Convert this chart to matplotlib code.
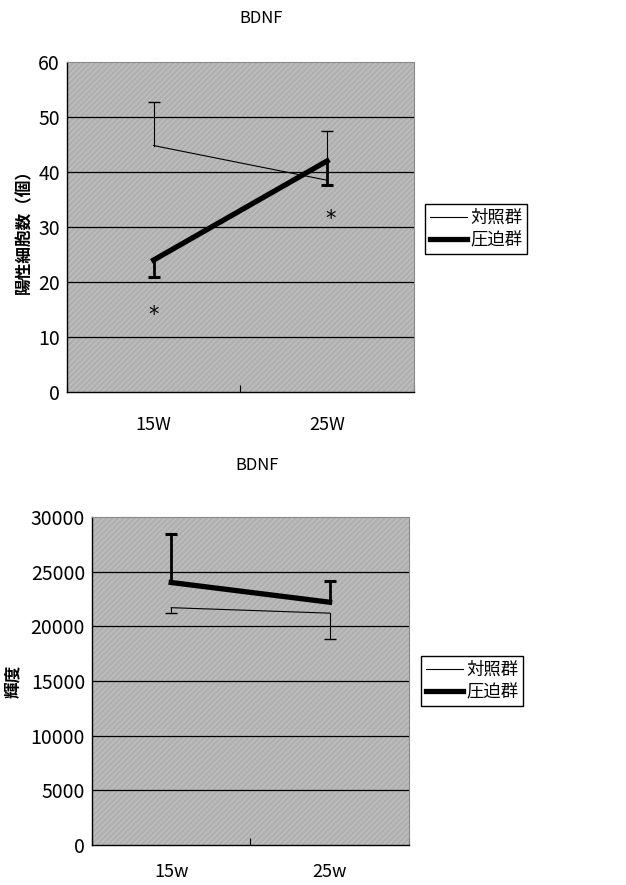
import matplotlib
matplotlib.use("Agg")
import matplotlib.pyplot as plt
from matplotlib.patches import Rectangle

plt.rcParams['font.family'] = ['Noto Sans CJK JP', 'DejaVu Sans']
plt.rcParams['hatch.linewidth'] = 0.6

# data
weeks_top = ['15W', '25W']
weeks_bottom = ['15w', '25w']
series_names = ['対照群', '圧迫群']

cells_control = [44.8, 38.5]
cells_control_err_up = [8.0, 9.0]
cells_press = [24.0, 42.0]
cells_press_err_down = [3.0, 4.3]
cells_star = [(0, 14.0), (1, 31.5)]

lum_control = [21700, 21200]
lum_control_err_down = [500, 2400]
lum_press = [24000, 22200]
lum_press_err_up = [4400, 1900]


def style_axes(ax, ymax, ystep, labels, xpad):
    ax.set_facecolor('#b0b0b0')
    ax.add_patch(Rectangle((0, 0), 1, 1, transform=ax.transAxes, facecolor='none',
                           edgecolor='#c8c8c8', hatch='//////', lw=0, zorder=0))
    ax.set_xlim(0, 2)
    ax.set_ylim(0, ymax)
    ax.set_yticks(range(0, ymax + 1, ystep))
    for y in range(ystep, ymax, ystep):
        ax.axhline(y, color='black', lw=0.9, zorder=1)
    ax.set_xticks([0, 1, 2])
    ax.set_xticklabels([])
    ax.tick_params(axis='x', which='major', direction='in', length=5, width=0.8)
    ax.set_xticks([0.5, 1.5], minor=True)
    ax.set_xticklabels(labels, minor=True, fontsize=13)
    ax.tick_params(axis='x', which='minor', length=0, pad=xpad)
    ax.tick_params(axis='y', length=0, labelsize=14, pad=5)
    for s in ['top', 'right']:
        ax.spines[s].set_color('#8a8a8a')
        ax.spines[s].set_linewidth(0.8)
    for s in ['left', 'bottom']:
        ax.spines[s].set_linewidth(1.0)


def draw_err(ax, xs, means, errs, sign, lw, ms, mew):
    for x, m, e in zip(xs, means, errs):
        end = m + sign * e
        ax.plot([x, x], [m, end], color='black', lw=lw, zorder=4)
        ax.plot([x], [end], marker='_', color='black', ms=ms, mew=mew, zorder=4)


def add_legend(fig, handles, ycenter, xleft):
    fig.legend(handles, series_names, loc='center left',
               bbox_to_anchor=(xleft / 626, 1 - ycenter / 885),
               frameon=True, fancybox=False, edgecolor='black', framealpha=1,
               handlelength=2.1, borderpad=0.3, labelspacing=0.25,
               handletextpad=0.2, borderaxespad=0,
               prop={'size': 12.5})


fig = plt.figure(figsize=(6.26, 8.85), dpi=100)
xs = [0.5, 1.5]

# top chart
ax1 = fig.add_axes([0.107, 0.557, 0.554, 0.373])
style_axes(ax1, 60, 10, weeks_top, 17)
l1, = ax1.plot(xs, cells_control, color='black', lw=0.8, zorder=3)
l2, = ax1.plot(xs, cells_press, color='black', lw=3.8, zorder=3)
draw_err(ax1, xs, cells_control, cells_control_err_up, 1, 0.8, 8, 1.0)
draw_err(ax1, xs, cells_press, cells_press_err_down, -1, 2.0, 8, 2.2)
for i, y in cells_star:
    ax1.text(xs[i] + (0.02 if i else 0), y, '*', ha='center', va='center', fontsize=15,
             family='DejaVu Sans')
ax1.set_ylabel('陽性細胞数（個）', fontsize=12, fontweight='bold', labelpad=4)
ax1.set_title('BDNF', fontsize=12, pad=28, x=0.56)
add_legend(fig, [l1, l2], 229, 425)

# bottom chart
ax2 = fig.add_axes([0.147, 0.045, 0.506, 0.371])
style_axes(ax2, 30000, 5000, weeks_bottom, 13)
m1, = ax2.plot(xs, lum_control, color='black', lw=0.8, zorder=3)
m2, = ax2.plot(xs, lum_press, color='black', lw=3.8, zorder=3)
draw_err(ax2, xs, lum_control, lum_control_err_down, -1, 0.8, 8, 1.0)
draw_err(ax2, xs, lum_press, lum_press_err_up, 1, 2.0, 8, 2.2)
ax2.set_ylabel('輝度', fontsize=12, fontweight='bold', labelpad=6)
ax2.set_title('BDNF', fontsize=12, pad=34, x=0.52)
add_legend(fig, [m1, m2], 681, 421)

fig.savefig('out.png', dpi=100, facecolor='white')
